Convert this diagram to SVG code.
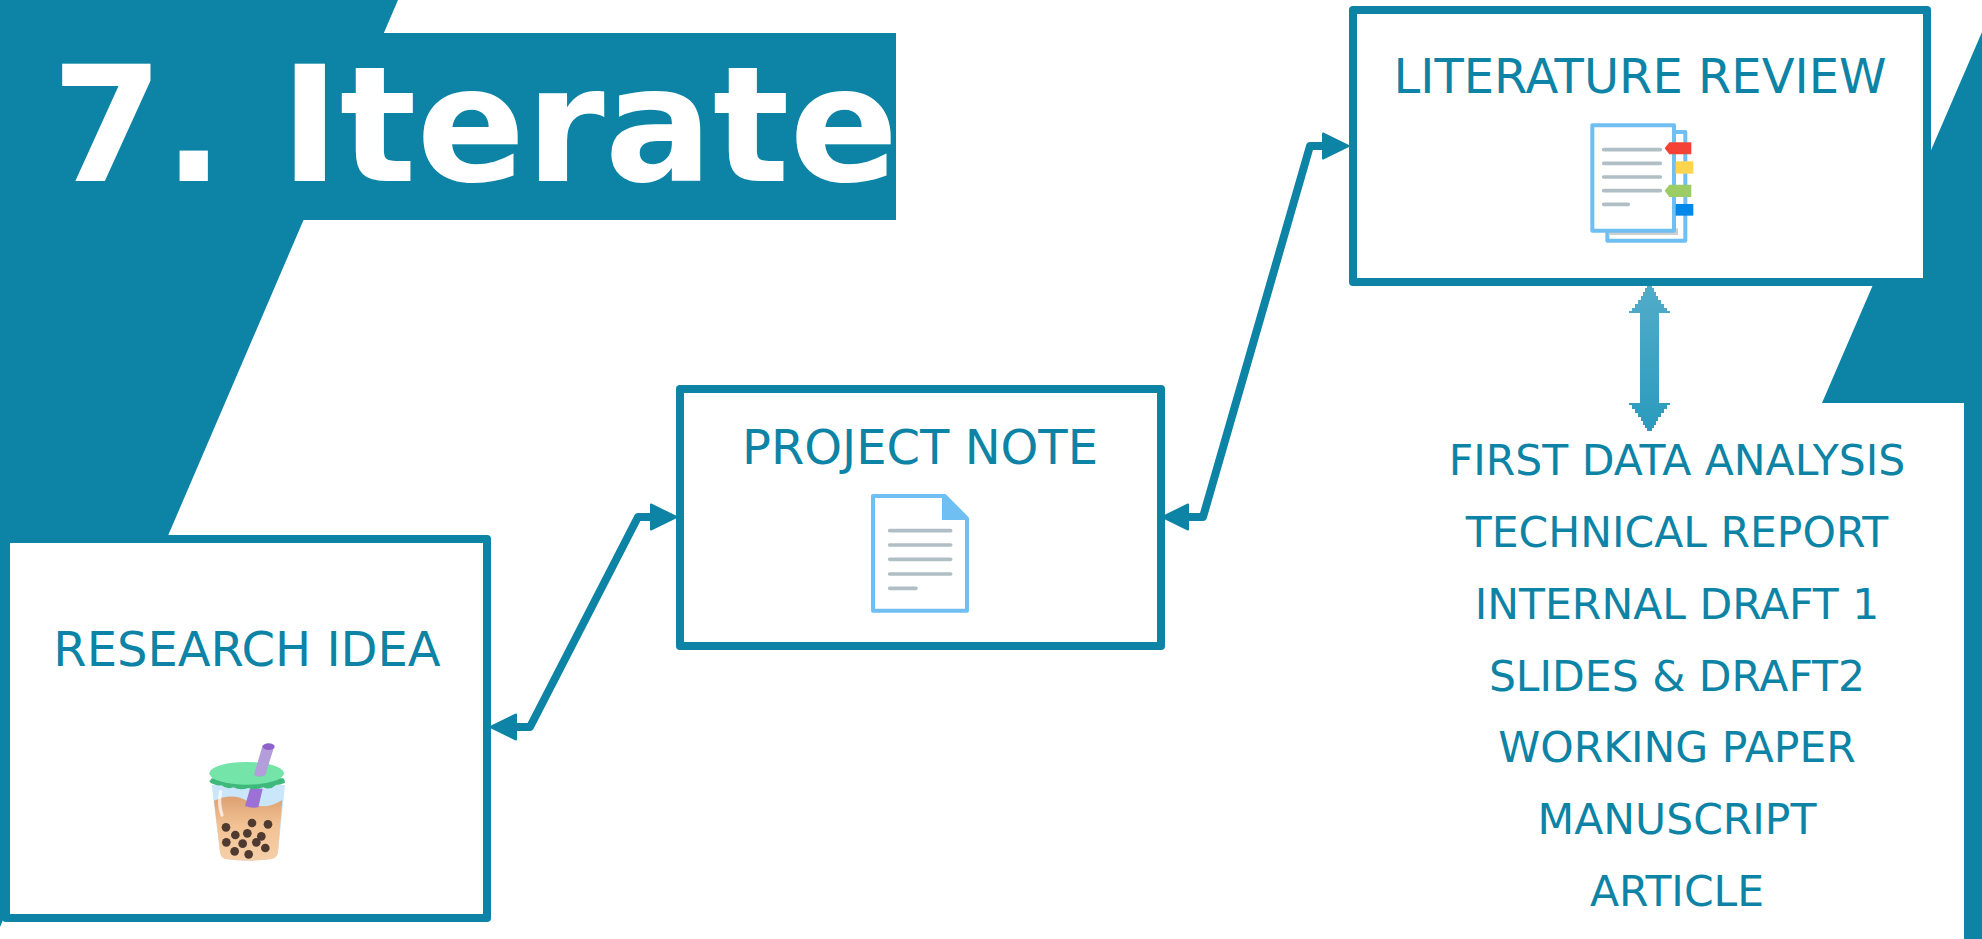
<svg xmlns="http://www.w3.org/2000/svg" width="1982" height="939" viewBox="0 0 1982 939">
<style>
.t{fill:#0d84a5;font-family:"DejaVu Sans",sans-serif;text-anchor:middle}
.h{font-size:48px}.l{font-size:42.5px}
.box{fill:#fff;stroke:#0d84a5;stroke-width:8;stroke-linejoin:round}
.c{fill:none;stroke:#0d84a5;stroke-width:8;stroke-linejoin:round}
.bg{fill:#0d84a5}
.ln{stroke:#b0bec5;stroke-width:11;stroke-linecap:round;fill:none}
.pg{fill:#fff;stroke:#6fbff2;stroke-width:12;stroke-linejoin:round}
</style>
<defs>
<marker id="ah" viewBox="0 0 28 28" refX="1" refY="14" markerWidth="28" markerHeight="28" markerUnits="userSpaceOnUse" orient="auto-start-reverse"><path d="M1,1.500L26.500,14L1,26.500Z" fill="#0d84a5" stroke="#0d84a5" stroke-width="2" stroke-linejoin="round"/></marker>
<linearGradient id="dbl" x1="0" y1="0" x2="0" y2="1"><stop offset="0" stop-color="#52acc9"/><stop offset="1" stop-color="#2a9bbd"/></linearGradient>
<linearGradient id="tea" x1="0" y1="0" x2="0" y2="1"><stop offset="0" stop-color="#dca072"/><stop offset=".45" stop-color="#f2c294"/><stop offset="1" stop-color="#f6cfa8"/></linearGradient>
</defs>
<g id="background">
<polygon class="bg" points="0,0 398,0 0,927"/>
<polygon class="bg" points="1982,32 1822,403 1964,403 1964,939 1982,939"/>
<rect class="bg" x="0" y="33" width="896" height="187"/>
</g>
<g id="title"><text x="475" y="181" text-anchor="middle" font-family="'DejaVu Sans',sans-serif" font-weight="700" font-size="160.500" fill="#fff">7. Iterate</text></g>
<g id="connectors">
<path class="c" d="M516,727H530L638,517H651" marker-start="url(#ah)" marker-end="url(#ah)"/>
<path class="c" d="M1188,517H1203L1310,146H1323" marker-start="url(#ah)" marker-end="url(#ah)"/>
<path fill="url(#dbl)" d="M1647,285H1652V288H1654V292H1656V296H1658V300H1661V304H1664V308H1667V311H1670V313H1659V403H1670V405H1667V409H1664V413H1661V417H1658V421H1656V425H1654V428H1652V431H1647V428H1645V425H1643V421H1641V417H1638V413H1635V409H1632V405H1629V403H1640V313H1629V311H1632V308H1635V304H1638V300H1641V296H1643V292H1645V288H1647Z"/>
</g>
<g id="research-idea">
<rect class="box" x="6" y="539" width="481" height="379"/>
<text class="t h" x="247" y="666">RESEARCH IDEA</text>
<g transform="translate(190,730) scale(.3333)">
<path d="M65,165L285,165L264,365Q262,385 240,388Q175,396 110,388Q92,385 90,365Z" fill="#c9e6fb"/>
<path d="M72,212Q130,185 175,215T277,210L264,365Q262,385 240,388Q175,396 110,388Q92,385 90,365Z" fill="url(#tea)"/>
<path d="M180,176L218,176L205,232Q185,236 165,228Z" fill="#9c70d4"/>
<path d="M92,185Q84,220 96,255" stroke="#fff" stroke-width="10" stroke-linecap="round" fill="none" opacity=".7"/>
<path d="M58,155Q62,148 66,145H280Q285,150 285,158Q270,165 258,165Q240,182 220,172Q195,182 175,174Q150,182 130,172Q110,180 95,166Q75,168 58,155Z" fill="#3fb97b"/>
<ellipse cx="170" cy="130" rx="112" ry="34" fill="#74e4a8"/>
<path d="M218,45L252,52L226,135Q210,145 192,135Z" fill="#b39ddb"/>
<ellipse cx="236" cy="50" rx="18" ry="10" fill="#8e63c9"/>
<g fill="#4e3a30">
<circle cx="108" cy="292" r="13"/><circle cx="186" cy="279" r="13"/><circle cx="234" cy="283" r="13"/><circle cx="136" cy="315" r="13"/><circle cx="172" cy="310" r="13"/><circle cx="214" cy="319" r="13"/><circle cx="109" cy="337" r="13"/><circle cx="158" cy="341" r="13"/><circle cx="199" cy="337" r="13"/><circle cx="226" cy="354" r="13"/><circle cx="134" cy="364" r="13"/><circle cx="176" cy="373" r="13"/>
</g></g>
</g>
<g id="project-note">
<rect class="box" x="680" y="389" width="481" height="257"/>
<text class="t h" x="920" y="464">PROJECT NOTE</text>
<g transform="translate(850,480) scale(.3333)">
<path class="pg" d="M69,48H284L351,115V392H69Z"/>
<path d="M276,44H284L355,115V120H276Z" fill="#6fbff2"/>
<path class="ln" d="M119,152H302M119,195H302M119,238H302M119,282H302M119,325H198"/>
</g>
</g>
<g id="literature-review">
<rect class="box" x="1353" y="10" width="574" height="272"/>
<text class="t h" x="1640" y="93">LITERATURE REVIEW</text>
<g transform="translate(1560,100) scale(.3333)">
<path class="pg" d="M142,96H376V422H142Z"/>
<rect x="146" y="385" width="208" height="20" fill="#cfcfcf"/>
<path class="pg" d="M97,76H342V392H97Z"/>
<path class="ln" d="M131,149H301M131,190H301M131,231H301M131,272H301M131,313H205"/>
<path d="M328,127H394V163H328L314,145Z" fill="#f44336"/>
<rect x="347" y="184" width="53" height="37" fill="#ffd54f"/>
<path d="M328,254H394V291H328L314,272Z" fill="#9ccc65"/>
<rect x="347" y="312" width="53" height="35" fill="#0288e8"/>
</g>
</g>
<g id="outputs">
<text class="t l" x="1677" y="475">FIRST DATA ANALYSIS</text>
<text class="t l" x="1677" y="547">TECHNICAL REPORT</text>
<text class="t l" x="1677" y="619">INTERNAL DRAFT 1</text>
<text class="t l" x="1677" y="691">SLIDES &amp; DRAFT2</text>
<text class="t l" x="1677" y="762">WORKING PAPER</text>
<text class="t l" x="1677" y="834">MANUSCRIPT</text>
<text class="t l" x="1677" y="906">ARTICLE</text>
</g>
</svg>
